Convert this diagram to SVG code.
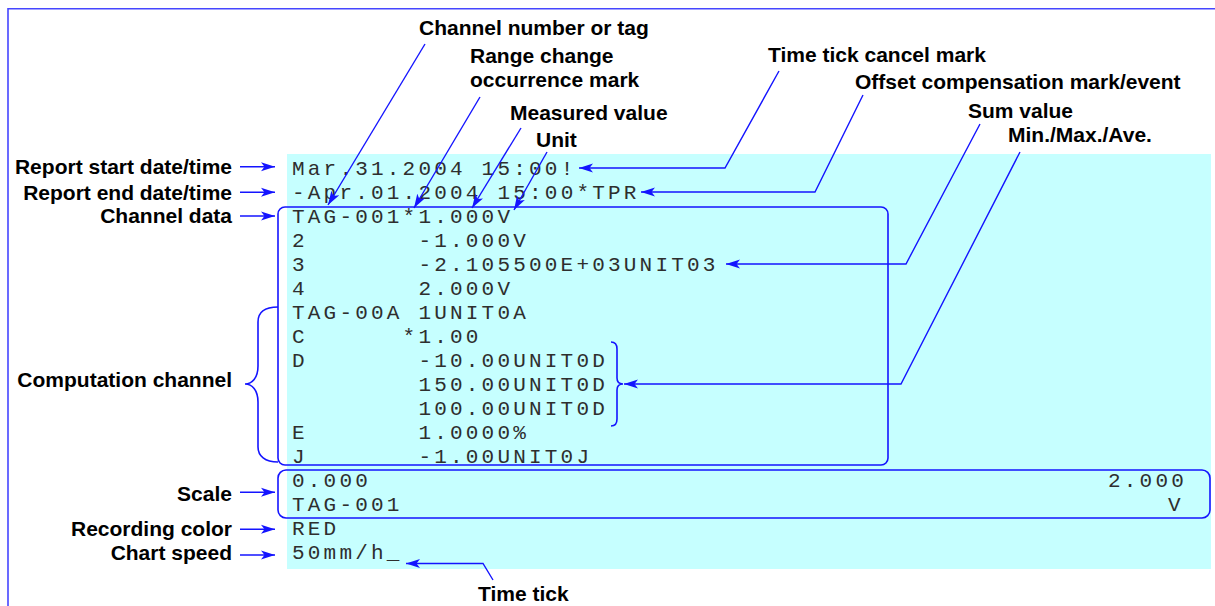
<svg xmlns="http://www.w3.org/2000/svg" width="1215" height="606" viewBox="0 0 1215 606">
<style>
.lbl{font-family:"Liberation Sans",Arial,sans-serif;font-weight:bold;font-size:21px;fill:#000}
.end{text-anchor:end}
.mono{font-family:"Liberation Mono","Courier New",monospace;font-size:21px;letter-spacing:3.2px;fill:#2e2e2e}
.ln{fill:none;stroke:#1414ff;stroke-width:1.4}
.arr{marker-end:url(#ah)}
.box{fill:none;stroke:#1414ff;stroke-width:1.6}
</style>
<defs>
<marker id="ah" markerUnits="userSpaceOnUse" markerWidth="15" markerHeight="10" viewBox="0 -5 15 10" refX="14" refY="0" orient="auto">
<path d="M0,-4.5 L14,0 L0,4.5 L3.5,0 Z" fill="#1414ff"/>
</marker>
</defs>
<rect width="1215" height="606" fill="#fff"/>
<g id="frame">
<path d="M8,606 V8.7 H1215" fill="none" stroke="#4646ff" stroke-width="1.6"/>
</g>
<g id="panel">
<rect x="287" y="154" width="924" height="415" fill="#c6ffff"/>
</g>
<g id="printout" class="mono">
<text x="292" y="175">Mar.31.2004 15:00!</text>
<text x="292" y="199">-Apr.01.2004 15:00*TPR</text>
<text x="292" y="223">TAG-001*1.000V</text>
<text x="292" y="247">2</text><text x="418.4" y="247">-1.000V</text>
<text x="292" y="271">3</text><text x="418.4" y="271">-2.105500E+03UNIT03</text>
<text x="292" y="295">4</text><text x="418.4" y="295">2.000V</text>
<text x="292" y="319">TAG-00A</text><text x="418.4" y="319">1UNIT0A</text>
<text x="292" y="343">C</text><text x="402.6" y="343">*1.00</text>
<text x="292" y="367">D</text><text x="418.4" y="367">-10.00UNIT0D</text>
<text x="418.4" y="391">150.00UNIT0D</text>
<text x="418.4" y="415">100.00UNIT0D</text>
<text x="292" y="439">E</text><text x="418.4" y="439">1.0000%</text>
<text x="292" y="463">J</text><text x="418.4" y="463">-1.00UNIT0J</text>
<text x="292" y="487">0.000</text><text x="1108" y="487">2.000</text>
<text x="292" y="511">TAG-001</text><text x="1168" y="511">V</text>
<text x="292" y="535">RED</text>
<text x="292" y="559">50mm/h_</text>
</g>
<g id="channel-box"><rect class="box" x="278" y="207" width="610" height="258" rx="7"/></g>
<g id="scale-box"><rect class="box" x="278" y="470" width="932" height="48" rx="8"/></g>
<g id="computation-brace"><path class="box" d="M278,307 C265,307 258,312 258,322 L258,366 C258,378 252,384 245,384 C252,384 258,390 258,402 L258,447 C258,456 265,462 278,462"/></g>
<g id="minmax-brace"><path class="box" d="M611,342 C615,342 617,344 617,349 L617,378 C617,382 619,384 623,384 C619,384 617,386 617,390 L617,419 C617,424 615,426 611,426"/></g>
<g id="label-start"><text class="lbl end" x="232" y="173.5">Report start date/time</text></g>
<g id="label-end"><text class="lbl end" x="232" y="199.5">Report end date/time</text></g>
<g id="label-channel"><text class="lbl end" x="232" y="223">Channel data</text></g>
<g id="label-computation"><text class="lbl end" x="232" y="387">Computation channel</text></g>
<g id="label-scale"><text class="lbl end" x="232" y="500.5">Scale</text></g>
<g id="label-color"><text class="lbl end" x="232" y="536">Recording color</text></g>
<g id="label-speed"><text class="lbl end" x="232" y="560">Chart speed</text></g>
<g id="label-tag"><text class="lbl" x="419" y="35">Channel number or tag</text></g>
<g id="label-range"><text class="lbl" x="470" y="63">Range change</text><text class="lbl" x="470" y="87">occurrence mark</text></g>
<g id="label-measured"><text class="lbl" x="510" y="120">Measured value</text></g>
<g id="label-unit"><text class="lbl" x="536" y="146.5">Unit</text></g>
<g id="label-tickcancel"><text class="lbl" x="768" y="61.5">Time tick cancel mark</text></g>
<g id="label-offset"><text class="lbl" x="855" y="88.5">Offset compensation mark/event</text></g>
<g id="label-sum"><text class="lbl" x="968" y="117.5">Sum value</text></g>
<g id="label-minmax"><text class="lbl" x="1008" y="141.5">Min./Max./Ave.</text></g>
<g id="label-timetick"><text class="lbl" x="478" y="601">Time tick</text></g>
<g id="connectors" class="ln">
<path class="arr" d="M240,166.7 H275"/>
<path class="arr" d="M240,192.3 H275"/>
<path class="arr" d="M240,216 H275"/>
<path class="arr" d="M240,492.3 H275"/>
<path class="arr" d="M240,529.3 H275"/>
<path class="arr" d="M240,555 H275"/>
<path class="arr" d="M425,44 L328,205"/>
<path class="arr" d="M480,97 L414,208"/>
<path class="arr" d="M521,128 L472,208"/>
<path class="arr" d="M547,152 L514,210"/>
<path class="arr" d="M779,71 L725,168 L579,168"/>
<path class="arr" d="M863,95 L815,192 L641,192"/>
<path class="arr" d="M980,124 L906,264 L726,264"/>
<path class="arr" d="M1020,152 L901,384 L624,384"/>
<path class="arr" d="M493,580 L483,563.5 L406,563.5"/>
</g>
</svg>
